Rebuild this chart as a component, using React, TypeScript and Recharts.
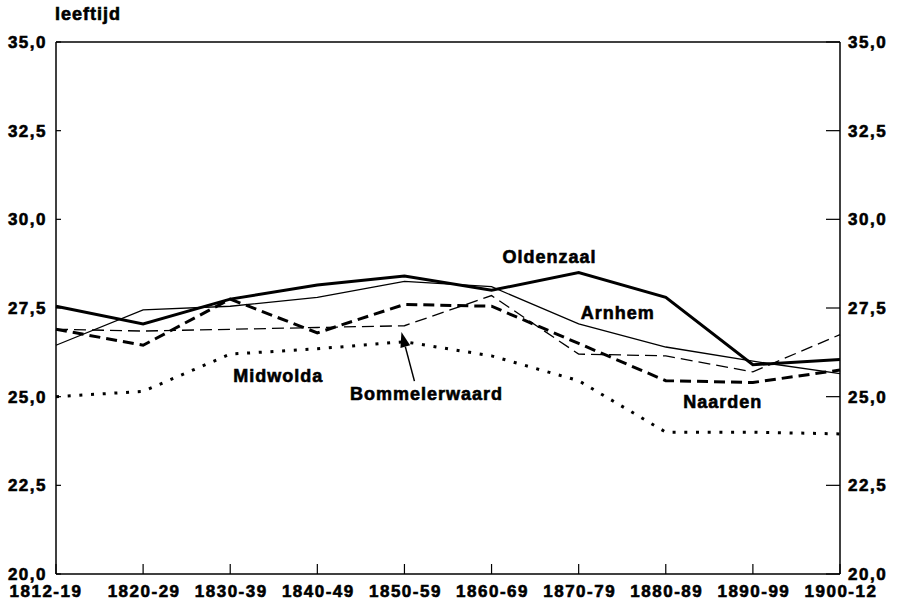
import React from "react";
import { LineChart, Line, XAxis, YAxis, ReferenceLine, ReferenceDot } from "recharts";

const periods = [
  "1812-19", "1820-29", "1830-39", "1840-49", "1850-59",
  "1860-69", "1870-79", "1880-89", "1890-99", "1900-12",
];
const oldenzaal = [27.55, 27.05, 27.75, 28.15, 28.4, 28.0, 28.5, 27.8, 25.9, 26.05];
const arnhem = [26.45, 27.45, 27.55, 27.8, 28.25, 28.1, 27.05, 26.4, 26.0, 25.65];
const naarden = [26.9, 26.45, 27.75, 26.8, 27.6, 27.55, 26.5, 25.45, 25.4, 25.75];
const bommelerwaard = [26.9, 26.85, 26.9, 26.95, 27.0, 27.85, 26.2, 26.15, 25.7, 26.75];
const midwolda = [25.0, 25.15, 26.2, 26.35, 26.55, 26.15, 25.45, 24.0, 24.0, 23.95];
const yTicks = [20, 22.5, 25, 27.5, 30, 32.5, 35];

// series names written next to the lines
const labelNames = ["Oldenzaal", "Arnhem", "Midwolda", "Bommelerwaard", "Naarden"];
const labelAt = ["1860-69", "1870-79", "1840-49", "1850-59", "1880-89"];
const labelY = [28.95, 27.36, 25.61, 25.09, 24.85];
const labelDx = [58, 39, -39, 22, 57];

const data = periods.map((p, i) => ({
  period: p,
  oldenzaal: oldenzaal[i],
  arnhem: arnhem[i],
  naarden: naarden[i],
  bommelerwaard: bommelerwaard[i],
  midwolda: midwolda[i],
}));

const FONT = '"Liberation Sans", Arial, Helvetica, sans-serif';
const fmt = (v: number) => v.toFixed(1).replace(".", ",");

const textStyle = {
  fontFamily: FONT,
  fontWeight: 700,
  fontSize: 17,
  letterSpacing: 1.5,
  fill: "#000",
  stroke: "#000",
  strokeWidth: 0.6,
};

function LeftTick(props: any) {
  const { x, y, payload } = props;
  return (
    <g>
      <line x1={x} x2={x + 5} y1={y} y2={y} stroke="#000" strokeWidth={1.2} />
      <text x={x - 9} y={y} dy="0.36em" textAnchor="end" style={textStyle}>
        {fmt(payload.value)}
      </text>
    </g>
  );
}

function RightTick(props: any) {
  const { x, y, payload } = props;
  return (
    <g>
      <line x1={x} x2={x - 14} y1={y} y2={y} stroke="#000" strokeWidth={1.2} />
      <text x={x + 8} y={y} dy="0.36em" textAnchor="start" style={textStyle}>
        {fmt(payload.value)}
      </text>
    </g>
  );
}

function BottomTick(props: any) {
  const { x, y, payload, index } = props;
  const shift = index === 0 ? -11 : 0;
  return (
    <g>
      <line x1={x} x2={x} y1={y} y2={y - 10} stroke="#000" strokeWidth={1.2} />
      <text x={x + shift + 1} y={y + 23} textAnchor="middle" style={textStyle}>
        {payload.value}
      </text>
    </g>
  );
}

function Arrow(props: any) {
  const vx = props.viewBox.x;
  const vy = props.viewBox.y;
  const tx = vx - 3;
  const ty = vy;
  const ex = vx + 10;
  const ey = vy + 49;
  const len = Math.hypot(ex - tx, ey - ty);
  const ux = (ex - tx) / len;
  const uy = (ey - ty) / len;
  const bx = tx + ux * 15;
  const by = ty + uy * 15;
  const px = -uy * 5;
  const py = ux * 5;
  return (
    <g>
      <line x1={bx} y1={by} x2={ex} y2={ey} stroke="#000" strokeWidth={1.5} />
      <polygon
        points={`${tx},${ty} ${bx + px},${by + py} ${bx - px},${by - py}`}
        fill="#000"
      />
    </g>
  );
}

export default function App() {
  return (
    <div style={{ position: "absolute", left: 0, top: 0, width: 898, height: 606, background: "#fff" }}>
      <div
        style={{
          position: "absolute",
          left: 55,
          top: 5,
          fontFamily: FONT,
          fontWeight: 700,
          fontSize: 18,
          lineHeight: "18px",
          letterSpacing: 1,
          color: "#000",
          WebkitTextStroke: "0.6px #000",
        }}
      >
        leeftijd
      </div>
      <LineChart
        width={898}
        height={606}
        data={data}
        margin={{ top: 42, right: 0, bottom: 0, left: 0 }}
      >
        <XAxis
          dataKey="period"
          interval={0}
          height={32}
          tickSize={0}
          tickMargin={0}
          axisLine={{ stroke: "#000", strokeWidth: 1.5 }}
          tickLine={false}
          tick={<BottomTick />}
        />
        <YAxis
          yAxisId="left"
          type="number"
          domain={[20, 35]}
          ticks={yTicks}
          interval={0}
          width={56}
          tickSize={0}
          tickMargin={0}
          axisLine={{ stroke: "#000", strokeWidth: 1.5 }}
          tickLine={false}
          tick={<LeftTick />}
        />
        <YAxis
          yAxisId="right"
          orientation="right"
          type="number"
          domain={[20, 35]}
          allowDataOverflow
          ticks={yTicks}
          interval={0}
          width={58}
          tickSize={0}
          tickMargin={0}
          axisLine={{ stroke: "#000", strokeWidth: 1.5 }}
          tickLine={false}
          tick={<RightTick />}
        />
        <ReferenceLine yAxisId="left" y={35} stroke="#000" strokeWidth={1.5} />
        {/* invisible copy so the right axis gets a domain and its ticks */}
        <Line
          yAxisId="right"
          dataKey="oldenzaal"
          stroke="none"
          dot={false}
          activeDot={false}
          isAnimationActive={false}
        />
        <Line
          yAxisId="left"
          dataKey="midwolda"
          stroke="#000"
          strokeWidth={3}
          strokeDasharray="3 8.7"
          dot={false}
          isAnimationActive={false}
        />
        <Line
          yAxisId="left"
          dataKey="bommelerwaard"
          stroke="#000"
          strokeWidth={1.3}
          strokeDasharray="12 6"
          dot={false}
          isAnimationActive={false}
        />
        <Line
          yAxisId="left"
          dataKey="naarden"
          stroke="#000"
          strokeWidth={3}
          strokeDasharray="11 6"
          dot={false}
          isAnimationActive={false}
        />
        <Line
          yAxisId="left"
          dataKey="arnhem"
          stroke="#000"
          strokeWidth={1.3}
          dot={false}
          isAnimationActive={false}
        />
        <Line
          yAxisId="left"
          dataKey="oldenzaal"
          stroke="#000"
          strokeWidth={3}
          dot={false}
          isAnimationActive={false}
        />
        {labelNames.map((name, i) => (
          <ReferenceDot
            key={name}
            yAxisId="left"
            x={labelAt[i]}
            y={labelY[i]}
            r={0}
            fill="none"
            stroke="none"
            label={{
              content: (p: any) => (
                <text
                  x={p.viewBox.x + labelDx[i]}
                  y={p.viewBox.y}
                  dy="0.36em"
                  textAnchor="middle"
                  style={{ ...textStyle, fontSize: 18, letterSpacing: 1 }}
                >
                  {name}
                </text>
              ),
            }}
          />
        ))}
        <ReferenceDot
          yAxisId="left"
          x="1850-59"
          y={26.82}
          r={0}
          fill="none"
          stroke="none"
          label={{ content: (p: any) => <Arrow {...p} /> }}
        />
      </LineChart>
    </div>
  );
}
